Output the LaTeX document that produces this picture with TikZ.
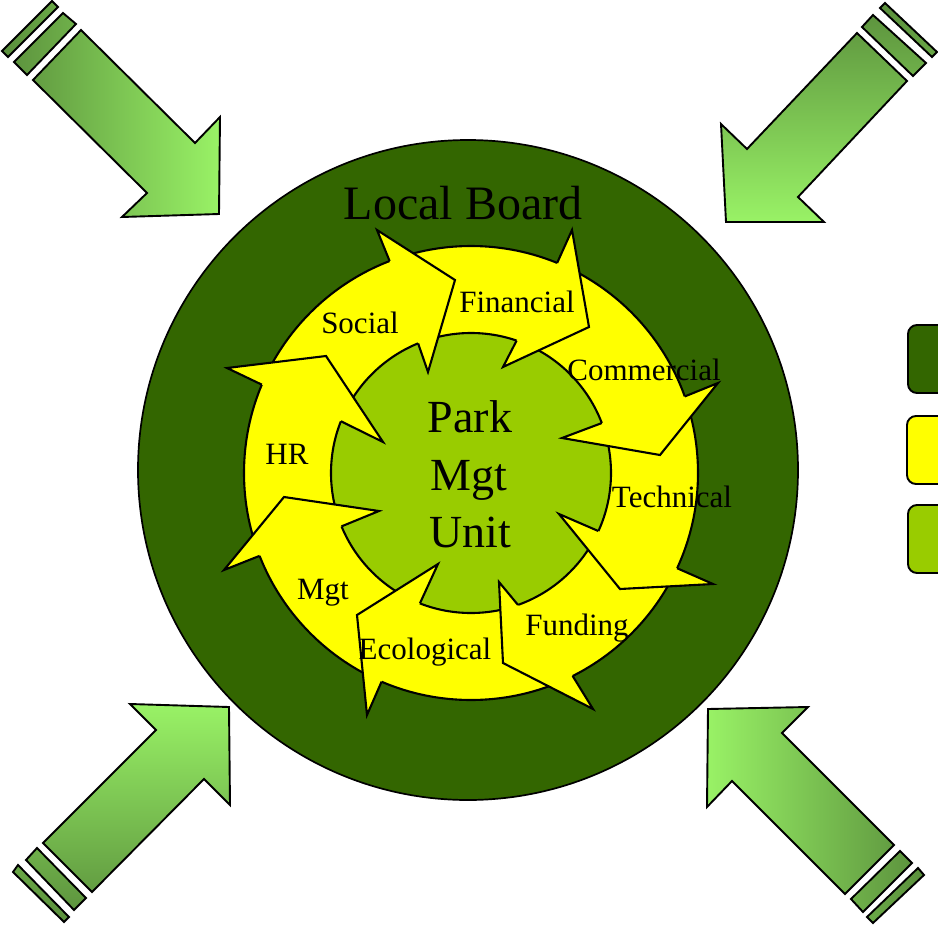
\documentclass[tikz,border=0pt]{standalone}
\usepackage{fontspec}
\setmainfont{Liberation Serif}
\usetikzlibrary{calc}
\definecolor{dkgreen}{HTML}{336600}
\definecolor{ltgreen}{HTML}{99CC00}
\definecolor{ringyellow}{HTML}{FFFF00}
\definecolor{arrowdark}{HTML}{5A8F3C}
\definecolor{arrowlight}{HTML}{99F266}
\begin{document}
\begin{tikzpicture}[x=1pt,y=-1pt,
  ringhead/.style={fill=ringyellow, draw=black, line width=2.1pt, line join=miter},
  cornerarrow/.style={draw=black, line width=1.9pt, top color=arrowlight, bottom color=arrowdark},
  ringlabel/.style={font=\fontsize{31}{36}\selectfont, anchor=base, inner sep=0pt},
  centerlabel/.style={font=\fontsize{46}{55}\selectfont, anchor=base, inner sep=0pt},
  legbox/.style={draw=black, line width=1.9pt, rounded corners=9pt}]
\useasboundingbox (0,0) rectangle (938,927);
\coordinate (C) at (471,473);
\coordinate (B) at (468,470);

% outer board circle
\draw[fill=dkgreen, line width=1.7pt] (B) circle[radius=330];
% yellow ring and inner unit
\draw[fill=ringyellow, line width=2.1pt] (C) circle[radius=227];
\draw[fill=ltgreen, line width=2.1pt] (C) circle[radius=140];

% arrow heads of the circular arrows (clockwise)
\path[ringhead] ($(C)+(-111.0:227)$) -- (377,230) -- (455,280) -- (428,372) -- ($(C)+(-112.2:140)$);
\path[ringhead] ($(C)+(-67.7:227)$) -- (572,230) -- (589,327) -- (503,367) -- ($(C)+(-71.0:140)$);
\path[ringhead] ($(C)+(-19.7:227)$) -- (718,383) -- (660,455) -- (562,438) -- ($(C)+(-20.9:140)$);
\path[ringhead] ($(C)+(24.8:227)$) -- (713,584) -- (620,589) -- (559,514) -- ($(C)+(24.5:140)$);
\path[ringhead] ($(C)+(63.4:227)$) -- (593,709) -- (503,663) -- (499,582) -- ($(C)+(70.4:140)$);
\path[ringhead] ($(C)+(113.2:227)$) -- (367,715) -- (357,615) -- (438,564) -- ($(C)+(111.4:140)$);
\path[ringhead] ($(C)+(158.6:227)$) -- (224,570) -- (284,497) -- (379,511) -- ($(C)+(157.6:140)$);
\path[ringhead] ($(C)+(-157.1:227)$) -- (227,368) -- (326,356) -- (383,442) -- ($(C)+(-158.3:140)$);

% labels
\node[font=\fontsize{48}{55}\selectfont, anchor=base, inner sep=0pt] (board) at (463,219) {Local Board};
\node[centerlabel] (park) at (470,432) {Park};
\node[centerlabel] (mgtu) at (469,490) {Mgt};
\node[centerlabel] (unit) at (470,547) {Unit};
\node[ringlabel] (social) at (360,333) {Social};
\node[ringlabel] (financial) at (517,312) {Financial};
\node[ringlabel] (commercial) at (644,380) {Commercial};
\node[ringlabel] (technical) at (672,507) {Technical};
\node[ringlabel] (funding) at (577,635) {Funding};
\node[ringlabel] (ecological) at (425,659) {Ecological};
\node[ringlabel] (mgt) at (323,599) {Mgt};
\node[ringlabel] (hr) at (287,464) {HR};

% corner arrows
\path[cornerarrow, shading angle=-90]
  (81,30) -- (195,143) -- (220,117) -- (219,214) -- (122,217) -- (147,193) -- (33,80) -- cycle
  (63,13) -- (76,24) -- (27,75) -- (14,62) -- cycle
  (52,1) -- (58,7) -- (8,57) -- (2,51) -- cycle;
\path[cornerarrow, shading angle=180]
  (857,33) -- (747,149) -- (721,124) -- (726,222) -- (824,222) -- (798,197) -- (907,81) -- cycle
  (873,15) -- (926,63) -- (913,76) -- (862,27) -- cycle
  (885,3) -- (937,52) -- (932,57) -- (880,8) -- cycle;
\path[cornerarrow, shading angle=0]
  (229,707) -- (130,704) -- (156,730) -- (43,843) -- (92,892) -- (204,779) -- (230,805) -- cycle
  (26,860) -- (37,848) -- (86,898) -- (74,910) -- cycle
  (13,872) -- (18,865) -- (69,917) -- (64,922) -- cycle;
\path[cornerarrow, shading angle=90]
  (708,709) -- (808,707) -- (782,733) -- (894,845) -- (845,894) -- (732,781) -- (707,807) -- cycle
  (900,851) -- (912,863) -- (863,912) -- (851,899) -- cycle
  (918,868) -- (924,875) -- (873,923) -- (867,917) -- cycle;

% legend boxes (cut off at the right edge)
\draw[legbox, fill=dkgreen] (908,325) rectangle (970,393);
\draw[legbox, fill=ringyellow] (907,416) rectangle (970,484);
\draw[legbox, fill=ltgreen] (908,505) rectangle (970,573);
\end{tikzpicture}
\end{document}
